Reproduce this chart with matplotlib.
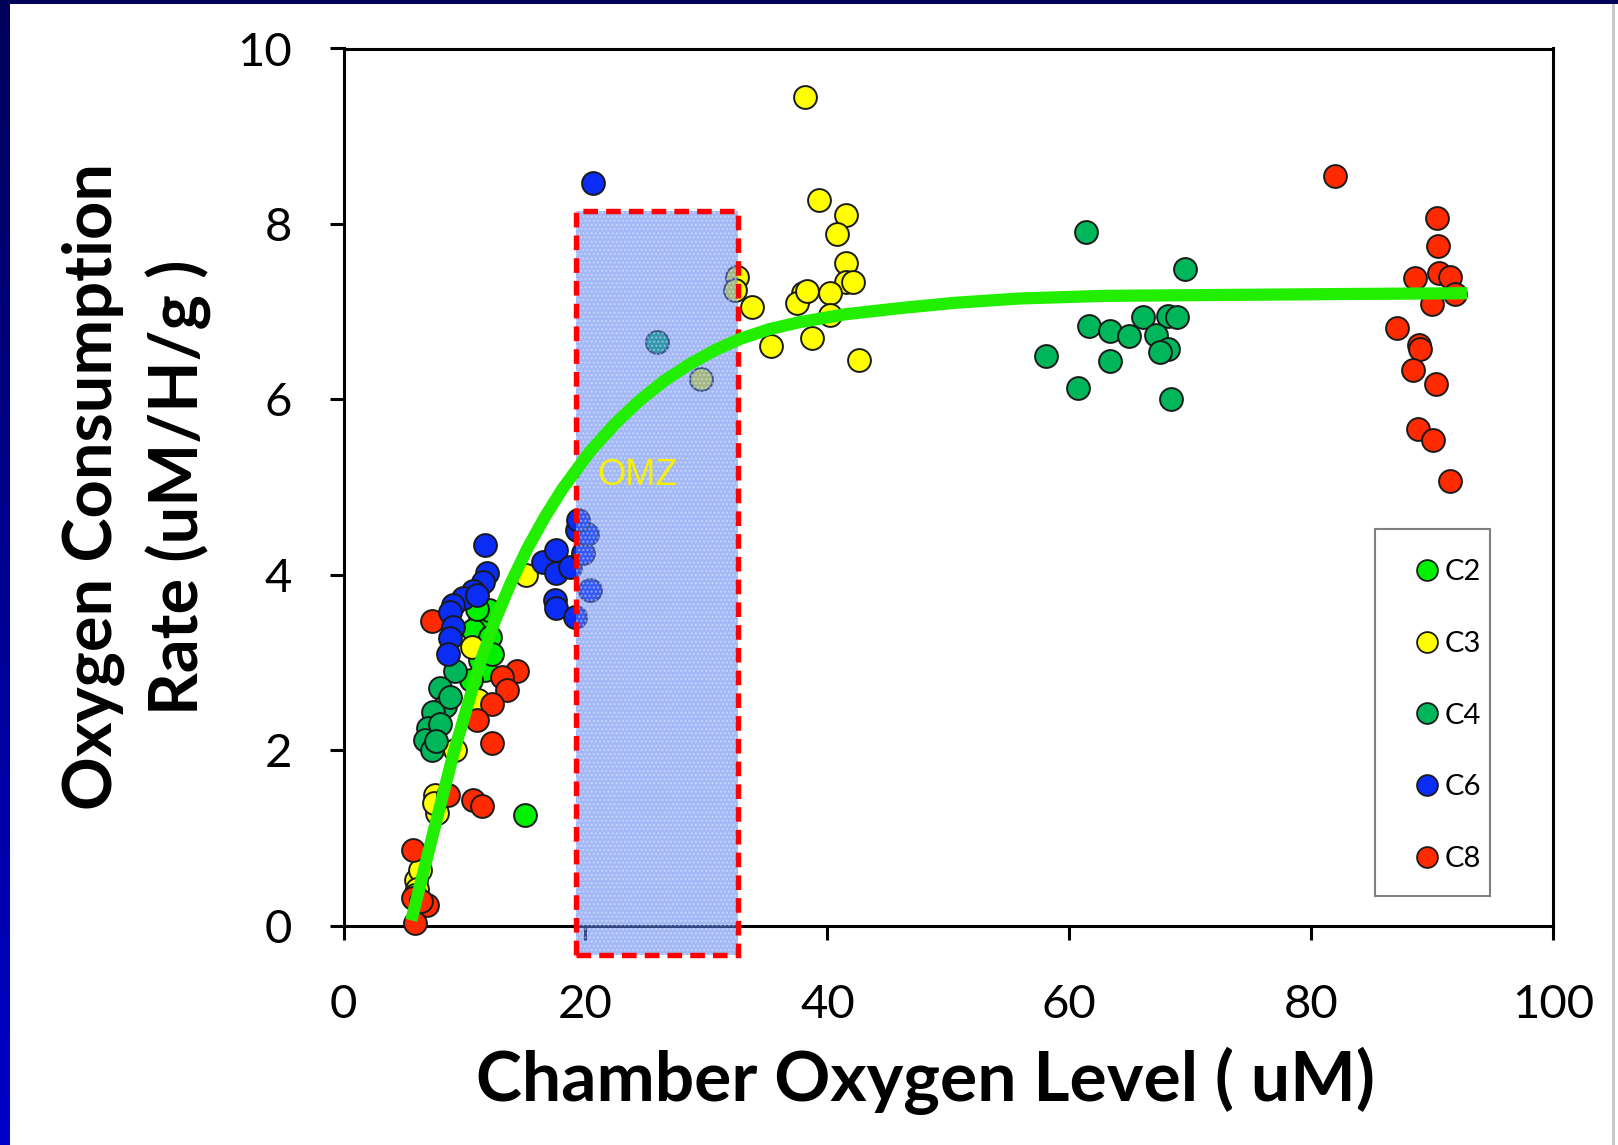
import matplotlib
matplotlib.use("Agg")
import matplotlib.pyplot as plt
import numpy as np
from matplotlib.patches import Rectangle
from matplotlib.lines import Line2D
from matplotlib.colors import LinearSegmentedColormap

# ---------------- data ----------------
series_names = ["C2", "C3", "C4", "C6", "C8"]
series_colors = ["#00f000", "#ffff00", "#00b65a", "#0a2cf5", "#ff2a00"]

c2_x = [11.3, 12.0, 10.7, 12.1, 11.3, 11.7, 10.5, 11.0, 12.3, 15.0]
c2_y = [3.48, 3.60, 3.37, 3.29, 3.03, 2.91, 2.80, 3.61, 3.10, 1.26]

c3_x = [6.0, 6.3, 6.1, 5.9, 7.56, 7.70, 7.45, 9.2, 11.1, 10.6, 15.1,
        29.55, 32.5, 32.4, 33.8, 35.3, 38.15, 39.3, 41.5, 40.8, 41.5, 41.5, 42.1,
        38.0, 37.5, 38.3, 40.2, 40.2, 38.7, 42.6]
c3_y = [0.52, 0.63, 0.42, 0.35, 1.49, 1.28, 1.40, 2.00, 2.57, 3.18, 4.00,
        6.23, 7.40, 7.25, 7.05, 6.61, 9.45, 8.27, 8.10, 7.89, 7.56, 7.34, 7.34,
        7.21, 7.10, 7.23, 7.21, 6.96, 6.70, 6.45]

c4_x = [9.21, 7.97, 8.38, 7.42, 7.0, 6.73, 7.28, 8.8, 8.0, 7.6,
        25.9,
        61.4, 69.6, 61.6, 63.4, 64.9, 66.1, 68.2, 68.9, 67.2, 68.2, 67.5, 58.1, 63.4, 60.7, 68.4]
c4_y = [2.90, 2.71, 2.50, 2.44, 2.25, 2.12, 2.00, 2.61, 2.30, 2.10,
        6.65,
        7.91, 7.49, 6.84, 6.78, 6.72, 6.94, 6.95, 6.94, 6.73, 6.57, 6.54, 6.49, 6.44, 6.13, 6.00]

c6_x = [11.69, 11.83, 11.55, 10.73, 9.90, 9.07, 8.80, 9.07, 8.80, 8.66, 11.0,
        16.5, 17.6, 17.6, 17.5, 17.6, 18.7, 19.1, 20.4, 19.8, 19.3, 20.1, 19.4,
        20.65]
c6_y = [4.34, 4.02, 3.92, 3.81, 3.73, 3.66, 3.58, 3.41, 3.28, 3.10, 3.77,
        4.15, 4.28, 4.02, 3.71, 3.62, 4.09, 3.52, 3.83, 4.25, 4.51, 4.47, 4.62,
        8.47]

c8_x = [7.28, 14.3, 13.07, 13.5, 12.25, 11.0, 12.25, 8.66, 10.73, 11.42,
        5.77, 5.77, 6.87, 5.9, 6.4,
        82.0, 90.4, 90.5, 90.6, 91.5, 88.6, 91.9, 90.0, 87.1, 88.9, 89.0, 88.4,
        90.3, 88.8, 90.1, 91.5]
c8_y = [3.47, 2.90, 2.84, 2.69, 2.53, 2.34, 2.08, 1.49, 1.43, 1.36,
        0.86, 0.31, 0.23, 0.03, 0.28,
        8.55, 8.07, 7.75, 7.44, 7.40, 7.38, 7.20, 7.09, 6.81, 6.62, 6.57, 6.33,
        6.18, 5.66, 5.54, 5.07]

fit_x = [5.6, 7.4, 9.1, 11.3, 12.5, 13.8, 15.2, 16.6, 18.1, 20.4, 22.5, 24.5, 26.5,
         28.6, 30.7, 32.8, 35.2, 37.7, 41.5, 46.0, 50.5, 55.9, 63.0, 72.5, 82.0, 92.9]
fit_y = [0.06, 1.05, 1.97, 3.00, 3.47, 3.90, 4.30, 4.65, 4.98, 5.41, 5.73, 5.99, 6.21,
         6.40, 6.56, 6.69, 6.80, 6.88, 6.97, 7.04, 7.10, 7.15, 7.18, 7.19, 7.20, 7.21]

omz_x0, omz_x1 = 19.2, 32.6
omz_y0, omz_y1 = -0.33, 8.15
omz_label = "OMZ"

x_ticks = [0, 20, 40, 60, 80, 100]
y_ticks = [0, 2, 4, 6, 8, 10]
x_label = "Chamber Oxygen Level ( uM)"
y_label = "Oxygen Consumption\nRate (uM/H/g )"

# ---------------- figure ----------------
W, H = 1618, 1145
fig = plt.figure(figsize=(W / 100, H / 100), dpi=100)
fig.patch.set_facecolor("white")

# slide frame decoration
grad = np.linspace(0, 1, 256).reshape(-1, 1)
bax = fig.add_axes([0, 0, 10 / W, 1])
cm = LinearSegmentedColormap.from_list("frame", ["#00005a", "#0000c8"])
bax.imshow(grad, aspect="auto", cmap=cm, extent=[0, 1, 1, 0])
bax.set_axis_off()
fig.patches.append(Rectangle((0, 1 - 4 / H), 1, 4 / H, transform=fig.transFigure,
                             facecolor="#000058", edgecolor="none"))
fig.patches.append(Rectangle((1 - 6 / W, 0), 3 / W, 1 - 4 / H, transform=fig.transFigure,
                             facecolor="#c8c8c8", edgecolor="none"))

ax = fig.add_axes([343.6 / W, 1 - 925.6 / H, (1553 - 343.6) / W, (925.6 - 48.5) / H])
ax.set_xlim(0, 100)
ax.set_ylim(0, 10)

font = "Lato"
data = [(c2_x, c2_y), (c3_x, c3_y), (c4_x, c4_y), (c8_x, c8_y), (c6_x, c6_y)]
order = [0, 1, 2, 4, 3]
for k, (xs, ys) in zip(order, data):
    ax.scatter(xs, ys, s=270, color=series_colors[k], edgecolor="#1a1a1a",
               linewidth=1.4, zorder=3, clip_on=False)

# OMZ rectangle
ax.add_patch(Rectangle((omz_x0, omz_y0), omz_x1 - omz_x0, omz_y1 - omz_y0,
                       facecolor="#5a7ff0", alpha=0.55, edgecolor="none",
                       zorder=4, clip_on=False))
ax.add_patch(Rectangle((omz_x0, omz_y0), omz_x1 - omz_x0, omz_y1 - omz_y0,
                       facecolor="none", edgecolor="#e8f0ff", hatch="....",
                       linewidth=0, alpha=0.45, zorder=4.1, clip_on=False))
ax.add_patch(Rectangle((omz_x0, omz_y0), omz_x1 - omz_x0, omz_y1 - omz_y0,
                       facecolor="none", edgecolor="#ff0000", linewidth=3.9,
                       linestyle=(0, (2.7, 1.5)), zorder=5, clip_on=False))
ax.text(21.0, 5.13, omz_label, color="#f8f000", fontsize=26,
        family="Liberation Sans", ha="left", va="center", zorder=6)

# fitted curve
ax.plot(fit_x, fit_y, color="#22ee00", linewidth=8.8, solid_capstyle="butt",
        solid_joinstyle="round", zorder=6, clip_on=False)

# axes styling
for sp in ax.spines.values():
    sp.set_linewidth(2.2)
    sp.set_color("black")
ax.set_xticks(x_ticks)
ax.set_yticks(y_ticks)
ax.set_xticklabels([str(v) for v in x_ticks])
ax.set_yticklabels([str(v) for v in y_ticks])
ax.tick_params(axis="both", direction="out", length=10, width=2.2,
               labelsize=34, colors="black")
ax.tick_params(axis="x", pad=32)
ax.tick_params(axis="y", pad=27)
for lab in ax.get_xticklabels() + ax.get_yticklabels():
    lab.set_family(font)

fig.text(925 / W, 1 - 1081 / H, x_label, ha="center", va="center",
         fontsize=50, fontweight="bold", family=font)
fig.text(137 / W, 1 - 487 / H, y_label, ha="center", va="center",
         rotation=90, fontsize=48, fontweight="bold", family=font,
         multialignment="center", linespacing=1.4)

# legend frame (drawn as a box) and entries
ax.add_patch(Rectangle((0.853, 0.034), 0.095, 0.418, transform=ax.transAxes,
                       facecolor="white", edgecolor="#808080", linewidth=1.5,
                       zorder=7))
handles = [Line2D([], [], linestyle="none", marker="o", markersize=15,
                  markerfacecolor=c, markeredgecolor="#1a1a1a", markeredgewidth=1.3)
           for c in series_colors]
leg = ax.legend(handles, series_names, loc="upper left",
                bbox_to_anchor=(0.8838, 0.418), prop={"family": font, "size": 21},
                frameon=False, labelspacing=1.57, handlelength=1.0,
                handletextpad=0.1, borderpad=0, borderaxespad=0)
leg.set_zorder(8)

fig.savefig("out.png", dpi=100, facecolor="white")
